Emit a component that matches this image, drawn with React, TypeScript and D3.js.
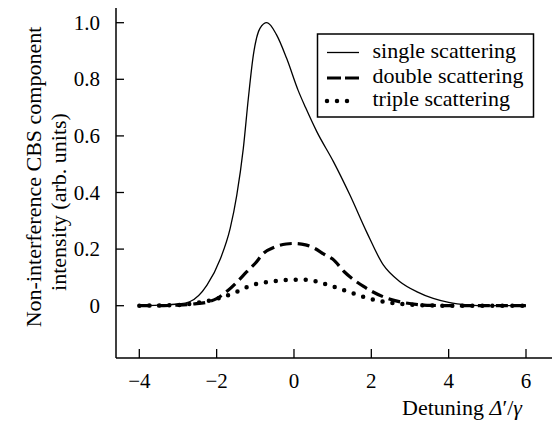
import React from "react";
import * as d3 from "d3";

const singleX = [-4, -3.5, -3, -2.7, -2.25, -1.9, -1.65, -1.48, -1.31, -1.18, -1.05, -0.88, -0.7, -0.45, -0.19, 0.11, 0.3, 0.59, 1.02, 1.45, 1.88, 2.31, 2.74, 3.17, 3.6, 4.0, 4.5, 5, 6];
const singleY = [0, 0.002, 0.006, 0.014, 0.073, 0.167, 0.273, 0.39, 0.556, 0.733, 0.886, 0.98, 1.0, 0.957, 0.874, 0.76, 0.7, 0.615, 0.509, 0.39, 0.26, 0.144, 0.085, 0.05, 0.026, 0.012, 0.003, 0, 0];

const doubleX = [-4, -3.5, -3, -2.6, -2.26, -2, -1.74, -1.5, -1.22, -1, -0.79, -0.5, -0.2, 0, 0.3, 0.5, 0.8, 1.0, 1.3, 1.8, 2.3, 2.8, 3.2, 3.6, 4, 5, 6];
const doubleY = [0, 0, 0.002, 0.006, 0.012, 0.025, 0.05, 0.08, 0.12, 0.15, 0.185, 0.207, 0.218, 0.22, 0.215, 0.205, 0.18, 0.165, 0.12, 0.068, 0.032, 0.012, 0.004, 0.001, 0, 0, 0];

const tripleX = [-4, -3, -2.5, -2, -1.5, -1.14, -0.6, 0, 0.3, 0.6, 1.0, 1.5, 1.9, 2.4, 3, 3.5, 4, 5, 6];
const tripleY = [0, 0.002, 0.01, 0.024, 0.048, 0.07, 0.085, 0.092, 0.092, 0.085, 0.068, 0.045, 0.027, 0.012, 0.004, 0.001, 0, 0, 0];

const xTicks = [-4, -2, 0, 2, 4, 6];
const yTicks = [0, 0.2, 0.4, 0.6, 0.8, 1.0];
const legendLabels = ["single scattering", "double scattering", "triple scattering"];

export default function App() {
  const x = d3.scaleLinear().domain([-4, 6]).range([139.3, 526]);
  const y = d3.scaleLinear().domain([0, 1]).range([305.7, 22.7]);
  const axisX = 116;
  const axisY = 358;
  const xEnd = 552;
  const yTop = 8;

  const line = d3
    .line<[number, number]>()
    .x((d) => x(d[0]))
    .y((d) => y(d[1]))
    .curve(d3.curveMonotoneX);

  const zip = (a: number[], b: number[]) => a.map((v, i) => [v, b[i]] as [number, number]);

  const fmtY = (v: number) => (v === 0 ? "0" : v.toFixed(1));
  const fmtX = (v: number) => (v < 0 ? "\u2212" + Math.abs(v) : String(v));

  const legendRows = [52.5, 78, 101];
  const styles = [
    { sw: 1.3, dash: undefined as string | undefined, cap: "butt" },
    { sw: 3.2, dash: "14 4", cap: "butt" },
    { sw: 4.5, dash: "0 10", cap: "round" },
  ];

  return (
    <svg width={555} height={421} style={{ position: "absolute", left: 0, top: 0 }}>
      <rect x={0} y={0} width={555} height={421} fill="#fff" />
      {/* axes */}
      <line x1={axisX} x2={axisX} y1={yTop} y2={axisY} stroke="#000" strokeWidth={1.5} />
      <line x1={axisX} x2={xEnd} y1={axisY} y2={axisY} stroke="#000" strokeWidth={1.5} />
      {yTicks.map((t) => (
        <g key={"y" + t}>
          <line x1={axisX} x2={axisX + 8} y1={y(t)} y2={y(t)} stroke="#000" strokeWidth={1.3} />
          <text x={100} y={y(t) + 7} textAnchor="end" fontSize={21} style={{ fontFamily: '"Liberation Serif"' }}>
            {fmtY(t)}
          </text>
        </g>
      ))}
      {xTicks.map((t) => (
        <g key={"x" + t}>
          <line x1={x(t)} x2={x(t)} y1={axisY} y2={axisY - 9} stroke="#000" strokeWidth={1.3} />
          <text x={x(t)} y={388} textAnchor="middle" fontSize={21} style={{ fontFamily: '"Liberation Serif"' }}>
            {fmtX(t)}
          </text>
        </g>
      ))}

      {/* axis labels */}
      <text x={522} y={415} textAnchor="end" fontSize={22} style={{ fontFamily: '"Liberation Serif"' }}>
        Detuning <tspan fontStyle="italic">Δ</tspan>′/<tspan fontStyle="italic">γ</tspan>
      </text>
      <g transform="translate(41,177) rotate(-90)">
        <text x={0} y={0} textAnchor="middle" fontSize={22} style={{ fontFamily: '"Liberation Serif"' }}>
          Non-interference CBS component
        </text>
      </g>
      <g transform="translate(66,202) rotate(-90)">
        <text x={0} y={0} textAnchor="middle" fontSize={22} style={{ fontFamily: '"Liberation Serif"' }}>
          intensity (arb. units)
        </text>
      </g>

      {/* curves */}
      <path d={line(zip(singleX, singleY)) || ""} fill="none" stroke="#000" strokeWidth={styles[0].sw} />
      <path
        d={line(zip(doubleX, doubleY)) || ""}
        fill="none"
        stroke="#000"
        strokeWidth={3.2}
        strokeDasharray="12 6"
      />
      <path
        d={line(zip(tripleX, tripleY)) || ""}
        fill="none"
        stroke="#000"
        strokeWidth={styles[2].sw}
        strokeDasharray={styles[2].dash}
        strokeLinecap="round"
      />

      {/* legend */}
      <rect x={317.5} y={34} width={216} height={83} fill="#fff" stroke="#000" strokeWidth={1.5} />
      {legendLabels.map((lab, i) => (
        <g key={lab}>
          <line
            x1={327}
            x2={i === 2 ? 357 : 359}
            y1={legendRows[i]}
            y2={legendRows[i]}
            stroke="#000"
            strokeWidth={styles[i].sw}
            strokeDasharray={styles[i].dash}
            strokeLinecap={styles[i].cap as any}
          />
          <text x={372.5} y={legendRows[i] + 5} fontSize={22} style={{ fontFamily: '"Liberation Serif"' }}>
            {lab}
          </text>
        </g>
      ))}
    </svg>
  );
}
